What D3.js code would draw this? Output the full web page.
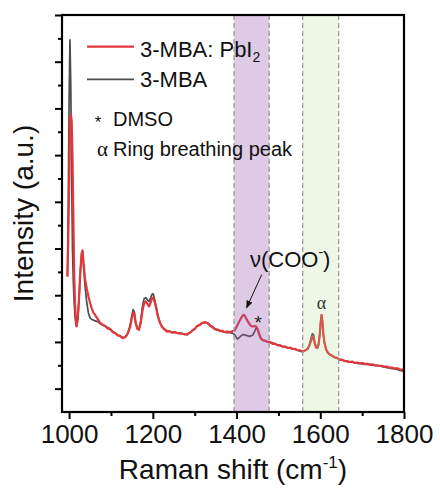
<!DOCTYPE html>
<html><head><meta charset="utf-8">
<script src="https://cdn.jsdelivr.net/npm/d3@7/dist/d3.min.js"></script>
<style>body{margin:0;background:#fff}svg{display:block}</style>
</head><body><svg id="c" width="440" height="489"></svg>
<script>
// ---- data ----
const wavenumber = [996,998,1000,1002,1004,1006,1008,1010,1012,1014,1016,1018,1021,1024,1027,1030,1032,1035,1038,1042,1046,1050,1054,1058,1062,1066,1070,1074,1080,1086,1092,1098,1104,1110,1116,1122,1128,1134,1140,1146,1150,1153,1156,1159,1163,1167,1171,1175,1179,1183,1187,1191,1195,1198,1201,1204,1208,1212,1217,1222,1228,1234,1240,1246,1252,1258,1264,1270,1276,1282,1288,1294,1300,1306,1312,1318,1324,1330,1336,1342,1348,1354,1360,1366,1372,1378,1384,1390,1396,1402,1407,1412,1416,1419,1423,1427,1431,1435,1439,1443,1447,1450,1454,1458,1462,1468,1474,1480,1486,1492,1498,1504,1510,1516,1522,1528,1534,1540,1546,1552,1558,1564,1570,1574,1578,1581,1584,1587,1590,1593,1596,1599,1601,1603,1605,1607,1610,1614,1618,1623,1628,1634,1640,1646,1652,1658,1664,1670,1676,1682,1688,1694,1700,1706,1712,1718,1724,1730,1736,1742,1748,1754,1760,1766,1772,1778,1784,1790,1796,1800];
const mbaPbI2 = [2.40,3.2,4.3,5.6,5.87,5.75,5.0,3.8,2.5,1.85,1.5,1.34,1.55,2.0,2.55,2.9,2.96,2.65,2.35,2.15,1.98,1.84,1.72,1.63,1.58,1.52,1.47,1.41,1.37,1.34,1.29,1.27,1.21,1.19,1.14,1.13,1.08,1.10,1.18,1.33,1.52,1.63,1.58,1.40,1.28,1.26,1.40,1.65,1.82,1.87,1.82,1.76,1.85,1.93,1.95,1.86,1.72,1.55,1.41,1.32,1.27,1.22,1.23,1.20,1.21,1.19,1.18,1.18,1.16,1.17,1.19,1.24,1.28,1.34,1.36,1.41,1.42,1.41,1.35,1.33,1.27,1.27,1.23,1.24,1.21,1.22,1.21,1.23,1.25,1.36,1.45,1.53,1.58,1.57,1.50,1.44,1.38,1.34,1.33,1.34,1.33,1.28,1.18,1.08,1.04,1.03,1.00,1.00,0.96,0.96,0.93,0.93,0.90,0.90,0.87,0.88,0.85,0.85,0.82,0.82,0.79,0.82,0.85,0.92,1.03,1.11,1.08,0.96,0.88,0.87,0.95,1.18,1.42,1.58,1.45,1.20,0.98,0.84,0.77,0.73,0.71,0.67,0.66,0.62,0.62,0.59,0.59,0.57,0.58,0.55,0.56,0.54,0.55,0.53,0.53,0.51,0.52,0.50,0.50,0.49,0.49,0.47,0.47,0.45,0.45,0.43,0.44,0.41,0.41,0.39,0.38,0.37];
const mba = [2.40,4.0,6.2,7.47,6.5,4.6,3.0,2.3,1.85,1.55,1.40,1.33,1.50,1.95,2.5,2.88,2.95,2.55,2.2,1.85,1.62,1.52,1.48,1.47,1.45,1.44,1.43,1.39,1.36,1.34,1.31,1.28,1.23,1.19,1.15,1.12,1.10,1.10,1.19,1.36,1.58,1.69,1.64,1.42,1.30,1.28,1.45,1.75,1.92,1.95,1.90,1.87,1.95,2.02,2.03,1.92,1.76,1.57,1.42,1.33,1.27,1.24,1.23,1.20,1.21,1.19,1.19,1.18,1.17,1.15,1.20,1.24,1.28,1.34,1.37,1.41,1.42,1.41,1.37,1.31,1.29,1.25,1.25,1.22,1.21,1.20,1.20,1.19,1.15,1.06,1.10,1.14,1.16,1.15,1.14,1.13,1.12,1.13,1.15,1.22,1.30,1.27,1.16,1.07,1.04,1.02,1.00,0.99,0.98,0.96,0.93,0.92,0.90,0.90,0.88,0.87,0.85,0.84,0.83,0.80,0.80,0.82,0.86,0.94,1.08,1.18,1.15,0.99,0.89,0.87,0.95,1.18,1.42,1.58,1.45,1.20,0.98,0.84,0.77,0.73,0.70,0.67,0.65,0.62,0.61,0.60,0.58,0.57,0.57,0.56,0.54,0.54,0.53,0.52,0.52,0.52,0.51,0.50,0.49,0.49,0.47,0.46,0.45,0.44,0.43,0.42,0.41,0.39,0.38,0.37];
const xMajorTicks = [1000,1200,1400,1600,1800];
const xMinorTicks = [1100,1300,1500,1700];
const yMajorTicks = [0,1,2,3,4,5,6,7,8];
const yMinorTicks = [0.5,1.5,2.5,3.5,4.5,5.5,6.5,7.5];
const bands = [{from:1394,to:1478,color:"rgb(150,90,170)",op:0.32},{from:1558,to:1644,color:"rgb(170,220,140)",op:0.22}];
const seriesNames = ["3-MBA: PbI", "3-MBA"];

// ---- layout ----
const L=62,R=404,T=15,B=412;
const svg=d3.select("#c");
const x=d3.scaleLinear().domain([983,1800]).range([L,R]);
const y=d3.scaleLinear().domain([-0.5,8]).range([B,T]);
const font="'Liberation Sans', Arial, sans-serif";

const line=d3.line().x(d=>x(d[0])).y(d=>y(d[1]));
const grayData=wavenumber.map((w,i)=>[w,mba[i]]);
const redData=wavenumber.map((w,i)=>[w,mbaPbI2[i]]);
svg.append("path").attr("d",line(grayData)).attr("fill","none").attr("stroke","#4d4d4d").attr("stroke-width",1.7).attr("stroke-linejoin","round");
svg.append("path").attr("d",line(redData)).attr("fill","none").attr("stroke","#e2383c").attr("stroke-width",2.2).attr("stroke-linejoin","round");

// bands on top (semi-transparent)
bands.forEach(b=>{
  svg.append("rect").attr("x",x(b.from)).attr("y",T).attr("width",x(b.to)-x(b.from)).attr("height",B-T)
    .attr("fill",b.color).attr("fill-opacity",b.op);
  [b.from,b.to].forEach(v=>svg.append("line").attr("x1",x(v)).attr("x2",x(v)).attr("y1",T).attr("y2",B)
    .attr("stroke","#9a9a9a").attr("stroke-width",1.3).attr("stroke-dasharray","5,3"));
});

// axes
const gx=svg.append("g").attr("transform",`translate(0,${B})`)
  .call(d3.axisBottom(x).tickValues(xMajorTicks).tickSize(7).tickSizeOuter(0).tickPadding(6).tickFormat(d3.format("d")));
gx.select(".domain").remove();
gx.selectAll("line").attr("stroke","#000").attr("stroke-width",2);
gx.selectAll("text").attr("font-family",font).attr("font-size",26).attr("fill","#111");
const gxm=svg.append("g").attr("transform",`translate(0,${B})`)
  .call(d3.axisBottom(x).tickValues(xMinorTicks).tickSize(4).tickFormat(""));
gxm.select(".domain").remove(); gxm.selectAll("line").attr("stroke","#000").attr("stroke-width",2);

const gy=svg.append("g").attr("transform",`translate(${L},0)`)
  .call(d3.axisLeft(y).tickValues(yMajorTicks).tickSize(7).tickFormat(""));
gy.select(".domain").remove(); gy.selectAll("line").attr("stroke","#000").attr("stroke-width",2);
const gym=svg.append("g").attr("transform",`translate(${L},0)`)
  .call(d3.axisLeft(y).tickValues(yMinorTicks).tickSize(4).tickFormat(""));
gym.select(".domain").remove(); gym.selectAll("line").attr("stroke","#000").attr("stroke-width",2);

svg.append("rect").attr("x",L).attr("y",T).attr("width",R-L).attr("height",B-T)
  .attr("fill","none").attr("stroke","#000").attr("stroke-width",2.2);

// axis titles
const xt=svg.append("text").attr("x",(L+R)/2).attr("y",479).attr("text-anchor","middle")
  .attr("font-family",font).attr("font-size",28).attr("fill","#111");
xt.append("tspan").text("Raman shift (cm");
xt.append("tspan").text("-1").attr("font-size",17).attr("dy",-11);
xt.append("tspan").text(")").attr("dy",11);
svg.append("text").attr("transform",`translate(33,${(T+B)/2}) rotate(-90)`).attr("text-anchor","middle")
  .attr("font-family",font).attr("font-size",28).attr("fill","#111").text("Intensity (a.u.)");

// legend
const leg=[{c:"#e2383c",ly:46.7,ty:56.5,sub:true},{c:"#4d4d4d",ly:79.3,ty:87.3,sub:false}];
leg.forEach((d,i)=>{
  svg.append("line").attr("x1",87).attr("x2",134).attr("y1",d.ly).attr("y2",d.ly).attr("stroke",d.c).attr("stroke-width",i?1.8:2.2);
  const t=svg.append("text").attr("x",140).attr("y",d.ty).attr("font-family",font).attr("font-size",22).attr("fill","#111");
  t.append("tspan").text(seriesNames[i]);
  if(d.sub) t.append("tspan").text("2").attr("font-size",14).attr("dy",5);
});
svg.append("text").attr("x",98).attr("y",128).attr("text-anchor","middle").attr("font-family",font).attr("font-size",17).attr("fill","#111").text("*");
svg.append("text").attr("x",113).attr("y",126).attr("font-family",font).attr("font-size",20).attr("fill","#111").text("DMSO");
svg.append("text").attr("x",97).attr("y",156).attr("font-family","'Liberation Serif', serif").attr("font-size",21).attr("fill","#111").text("α");
svg.append("text").attr("x",113).attr("y",156).attr("font-family",font).attr("font-size",20).attr("fill","#111").text("Ring breathing peak");

// annotations
const nu=svg.append("text").attr("x",x(1432)).attr("y",y(2.61)).attr("font-family",font).attr("font-size",22).attr("fill","#111");
nu.append("tspan").text("ν(COO");
nu.append("tspan").text("-").attr("font-size",14).attr("dy",-10);
nu.append("tspan").text(")").attr("dy",10);
svg.append("defs").append("marker").attr("id","ah").attr("viewBox","0 0 10 10").attr("refX",9).attr("refY",5)
  .attr("markerWidth",8).attr("markerHeight",8).attr("orient","auto").attr("markerUnits","userSpaceOnUse")
  .append("path").attr("d","M0,1 L10,5 L0,9 Z").attr("fill","#111");
svg.append("line").attr("x1",x(1460)).attr("y1",y(2.44)).attr("x2",x(1424)).attr("y2",y(1.73))
  .attr("stroke","#111").attr("stroke-width",1).attr("marker-end","url(#ah)");
svg.append("text").attr("x",x(1452)).attr("y",y(1.52)+11).attr("text-anchor","middle").attr("font-family",font).attr("font-size",19).attr("fill","#222").text("*");
svg.append("text").attr("x",x(1603)).attr("y",y(1.80)+4).attr("text-anchor","middle").attr("font-family","'Liberation Serif', serif").attr("font-size",18).attr("fill","#333").text("α");
</script></body></html>
